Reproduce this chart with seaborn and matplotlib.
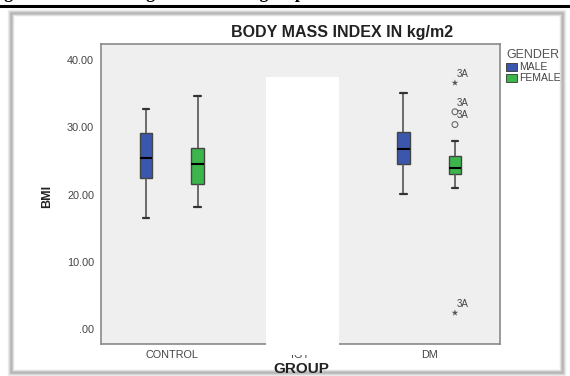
import pandas as pd
import numpy as np
import matplotlib
matplotlib.use("Agg")
import matplotlib.pyplot as plt
from matplotlib.patches import Rectangle, Patch
import seaborn as sns

# data
groups = ["CONTROL", "IGT", "DM"]
genders = ["MALE", "FEMALE"]
# lower whisker, Q1, median, Q3, upper whisker (IGT is hidden in the source)
control_male = [16.5, 22.5, 25.5, 29.2, 32.7]
control_female = [18.2, 21.6, 24.5, 26.9, 34.7]
dm_male = [20.1, 24.6, 26.8, 29.3, 35.1]
dm_female = [21.0, 23.1, 24.0, 25.7, 28.0]
# points outside the whiskers, DM females
dm_female_extremes = [36.6, 2.4]
dm_female_outliers = [32.3, 30.4]
flier_label = "3A"
y_ticks = [0, 10, 20, 30, 40]
y_tick_labels = [".00", "10.00", "20.00", "30.00", "40.00"]

colors = ["#3b57ad", "#3cb64b"]


def long_df(rows):
      return pd.DataFrame(
            [(g, s, v) for g, s, vals in rows for v in vals],
            columns=["group", "gender", "bmi"],
      )


df = long_df([
      ("CONTROL", "MALE", control_male),
      ("CONTROL", "FEMALE", control_female),
      ("DM", "MALE", dm_male),
      ("DM", "FEMALE", dm_female),
])
df_ext = long_df([("DM", "FEMALE", dm_female_extremes)])
df_out = long_df([("DM", "FEMALE", dm_female_outliers)])

sns.set_style("white")
plt.rcParams["font.family"] = ["Liberation Sans", "DejaVu Sans"]

fig = plt.figure(figsize=(5.7, 3.76), dpi=100)
W, H = 570, 376


def fx(px):
      return px / W


def fy(py):
      return 1 - py / H


# outer panel with soft grey shadow
for i, g in enumerate([0.93, 0.85, 0.76, 0.70, 0.76, 0.88]):
      fig.add_artist(Rectangle(
            (fx(8 + i), fy(375 - i)), fx(557 - 2 * i), (375 - 10 - 2 * i) / H,
            transform=fig.transFigure, fill=False,
            edgecolor=str(g), linewidth=1, zorder=0,
      ))

ax = fig.add_axes([fx(101), fy(344), fx(399), (344 - 44) / H])
ax.set_facecolor("#efefef")

sns.boxplot(
      data=df, x="group", y="bmi", hue="gender",
      order=groups, hue_order=genders, palette=colors,
      width=0.8, gap=0.75, saturation=1, showfliers=False,
      linewidth=1, linecolor="#444444",
      medianprops=dict(color="black", linewidth=1.5),
      whiskerprops=dict(color="#555555", linewidth=1.2),
      capprops=dict(color="#333333", linewidth=1.6),
      legend=False, ax=ax,
)

for frame, marker, size in [(df_ext, "*", 5), (df_out, "o", 4.2)]:
      sns.stripplot(
            data=frame, x="group", y="bmi", hue="gender",
            order=groups, hue_order=genders, palette=["#555555"] * 2,
            dodge=True, jitter=False, marker=marker, size=size,
            legend=False, ax=ax,
      )
      coll = ax.collections[-1]
      if marker == "o":
            coll.set_facecolor("none")
            coll.set_edgecolor("#666666")
            coll.set_linewidth(0.8)
      for x, y in coll.get_offsets():
            ax.annotate(flier_label, (x, y), xytext=(1.5, 3),
                        textcoords="offset points", fontsize=7,
                        color="#444444", va="bottom")

ax.set_xlim(-0.55, 2.55)
ax.set_ylim(-2.23, 42.38)
ax.set_yticks(y_ticks)
ax.set_yticklabels(y_tick_labels)
ax.tick_params(axis="both", direction="out", length=4, width=0.8,
               color="#666666", labelsize=7.8, labelcolor="#444444", pad=1)
ax.tick_params(axis="x", length=3)
for sp in ax.spines.values():
      sp.set_color("#8a8a8a")
      sp.set_linewidth(1.2)
ax.set_xlabel("")
ax.set_ylabel("")

fig.text(fx(47), fy(196), "BMI", rotation=90, fontsize=9, fontweight="bold",
         color="#222222", ha="center", va="center")
fig.text(fx(301), fy(369), "GROUP", fontsize=11, fontweight="bold",
         color="#222222", ha="center", va="center")
fig.text(fx(342), fy(33), "BODY MASS INDEX IN kg/m2", fontsize=11.5,
         fontweight="bold", color="#222222", ha="center", va="center")

handles = [Patch(facecolor=c, edgecolor="#333333", linewidth=0.6) for c in colors]
leg = ax.legend(handles, genders, title="GENDER", loc="upper left",
                bbox_to_anchor=(1.015, 0.982), frameon=False, fontsize=7.5,
                title_fontsize=9, handlelength=1.1, handleheight=0.8,
                handletextpad=0.2, labelspacing=0.1, borderaxespad=0,
                borderpad=0, alignment="left")
for t in leg.get_texts():
      t.set_color("#444444")
leg.get_title().set_color("#555555")

# white block that hides the middle group in the source image
fig.add_artist(Rectangle((fx(266), fy(355)), fx(73), (355 - 77) / H,
                         transform=fig.transFigure, facecolor="white",
                         edgecolor="none", zorder=5))

# cut-off caption and rule at the top
fig.text(fx(-12), fy(-2), "Figure 3: BMI among the different groups",
         family="Liberation Serif", fontweight="bold", fontsize=13,
         va="baseline", ha="left", color="black")
fig.add_artist(plt.Line2D([0, 1], [fy(5.5), fy(5.5)], color="black",
                          linewidth=2.2, transform=fig.transFigure))

fig.savefig("out.png", dpi=100)
